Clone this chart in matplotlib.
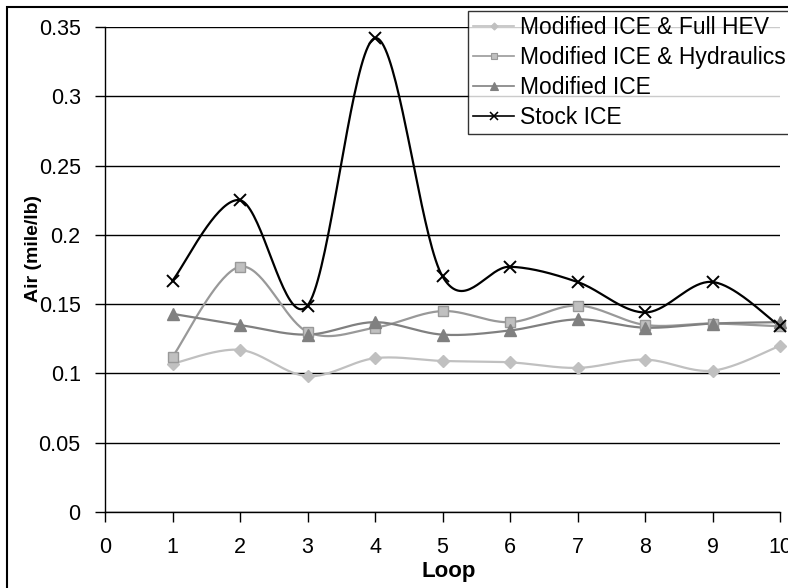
import numpy as np
import matplotlib
matplotlib.use("Agg")
import matplotlib.pyplot as plt
from matplotlib.patches import Rectangle

loops = [1, 2, 3, 4, 5, 6, 7, 8, 9, 10]
full_hev = [0.107, 0.117, 0.098, 0.111, 0.109, 0.108, 0.104, 0.110, 0.102, 0.120]
hydraulics = [0.112, 0.177, 0.130, 0.133, 0.145, 0.137, 0.149, 0.135, 0.136, 0.134]
modified_ice = [0.143, 0.135, 0.128, 0.137, 0.128, 0.131, 0.139, 0.133, 0.136, 0.137]
stock_ice = [0.167, 0.225, 0.149, 0.342, 0.170, 0.177, 0.166, 0.144, 0.166, 0.134]
series_names = ["Modified ICE & Full HEV", "Modified ICE & Hydraulics", "Modified ICE", "Stock ICE"]
x_ticks = [0, 1, 2, 3, 4, 5, 6, 7, 8, 9, 10]
y_ticks = [0, 0.05, 0.1, 0.15, 0.2, 0.25, 0.3, 0.35]
y_tick_labels = ["0", "0.05", "0.1", "0.15", "0.2", "0.25", "0.3", "0.35"]


def smooth(xs, ys, n=40):
    """Excel-style smoothed line (uniform Catmull-Rom / Bezier through the points)."""
    P = np.column_stack([np.asarray(xs, float), np.asarray(ys, float)])
    out = []
    for i in range(len(P) - 1):
        p0 = P[i - 1] if i > 0 else P[i]
        p1 = P[i]
        p2 = P[i + 1]
        p3 = P[i + 2] if i + 2 < len(P) else P[i + 1]
        t = np.linspace(0, 1, n)[:, None]
        c1 = p1 + (p2 - p0) / 6.0
        c2 = p2 - (p3 - p1) / 6.0
        seg = ((1 - t) ** 3) * p1 + 3 * ((1 - t) ** 2) * t * c1 + 3 * (1 - t) * t ** 2 * c2 + t ** 3 * p2
        out.append(seg if i == 0 else seg[1:])
    seg = np.vstack(out)
    return seg[:, 0], seg[:, 1]


plt.rcParams['font.family'] = ['Liberation Sans', 'DejaVu Sans']

W, H = 788, 588
fig = plt.figure(figsize=(W / 100, H / 100), dpi=100)
ax = fig.add_axes([105 / W, 1 - 512 / H, (780 - 105) / W, (512 - 27) / H])

styles = [
    dict(color="#C0C0C0", marker="D", ms=6, mfc="#C0C0C0", mec="#C0C0C0", lw=1.6),
    dict(color="#999999", marker="s", ms=7.5, mfc="#C0C0C0", mec="#999999", lw=1.6),
    dict(color="#808080", marker="^", ms=8.5, mfc="#808080", mec="#808080", lw=1.6),
    dict(color="#000000", marker="x", ms=8.5, mfc="none", mec="#000000", lw=1.6, mew=1.4),
]
data = [full_hev, hydraulics, modified_ice, stock_ice]

handles = []
for name, ys, st in zip(series_names, data, styles):
    sx, sy = smooth(loops, ys)
    ax.plot(sx, sy, color=st["color"], lw=st["lw"], zorder=3, clip_on=False)
    ax.plot(loops, ys, ls="none", marker=st["marker"], ms=st["ms"], mfc=st["mfc"],
            mec=st["mec"], mew=st.get("mew", 1.0), zorder=4, clip_on=False)
    h, = ax.plot([], [], color=st["color"], lw=1.2, marker=st["marker"], ms=st["ms"] * 0.6,
                 mfc=st["mfc"], mec=st["mec"], mew=st.get("mew", 1.0) * 0.8, label=name)
    handles.append(h)

ax.set_xlim(0, 10)
ax.set_ylim(0, 0.35)
ax.set_xticks(x_ticks)
ax.set_yticks(y_ticks)
ax.set_xticklabels([str(v) for v in x_ticks])
ax.set_yticklabels(y_tick_labels)
ax.yaxis.grid(True, color="black", lw=1.0)
ax.set_axisbelow(True)
for s in ["top", "right"]:
    ax.spines[s].set_visible(False)
for s in ["left", "bottom"]:
    ax.spines[s].set_color("black")
    ax.spines[s].set_linewidth(1.0)
ax.tick_params(axis="both", direction="out", length=7, width=1.0, colors="black", labelsize=15.5)
ax.tick_params(axis="x", pad=11)
ax.tick_params(axis="y", pad=10.5)

ax.set_xlabel("Loop", fontsize=16, fontweight="bold")
ax.set_ylabel("Air (mile/lb)", fontsize=14, fontweight="bold")
ax.xaxis.set_label_coords((449 - 105) / 675, (512 - 561) / 485)
ax.yaxis.set_label_coords((42 - 105) / 675, (512 - 248) / 485)

leg = fig.legend(handles=handles, loc="upper left",
                 bbox_to_anchor=(468 / W, 1 - 11 / H), bbox_transform=fig.transFigure,
                 borderaxespad=0, fontsize=16.5, frameon=True, fancybox=False,
                 handlelength=1.8, handletextpad=0.27, labelspacing=0.3, borderpad=0.22)
leg.get_frame().set_edgecolor("black")
leg.get_frame().set_linewidth(1.0)

fig.patches.append(Rectangle((7 / W, -0.2), 1.2, 1 - 7 / H + 0.2, transform=fig.transFigure,
                             fill=False, edgecolor="black", lw=1.5, zorder=10))

fig.savefig("out.png", dpi=100)
